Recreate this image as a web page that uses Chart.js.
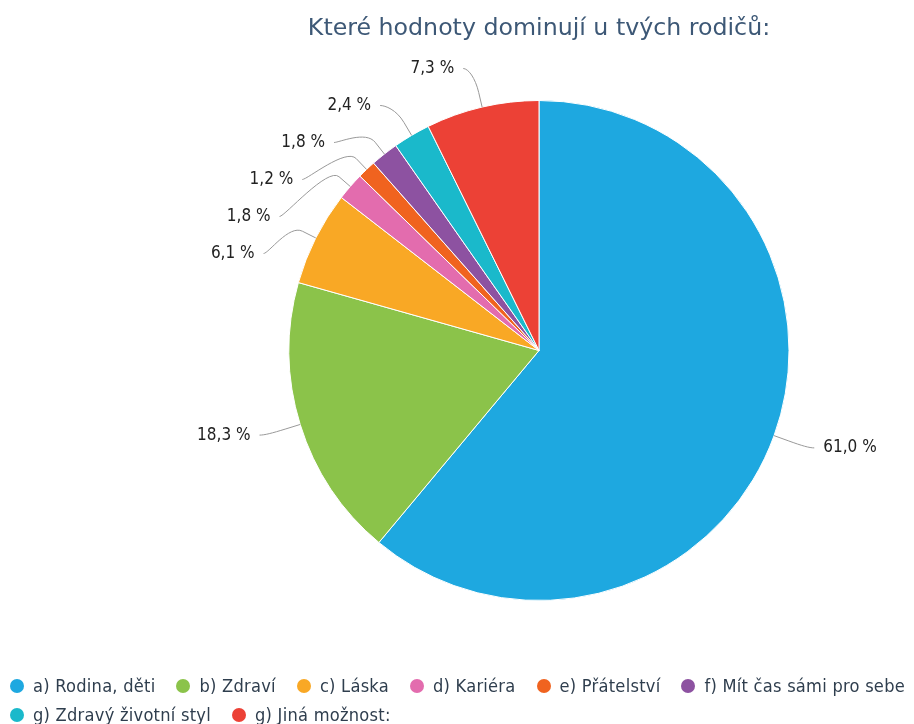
<!DOCTYPE html>
<html><head><meta charset="utf-8">
<script src="https://cdn.jsdelivr.net/npm/chart.js@4/dist/chart.umd.min.js"></script>
<style>
html,body{margin:0;padding:0;background:#fff;}
#wrap{position:relative;width:914px;height:724px;overflow:hidden;}
#c{position:absolute;left:0;top:0;}
#legend{position:absolute;left:10px;top:671px;width:990px;display:flex;flex-wrap:wrap;font-family:"DejaVu Sans Condensed","DejaVu Sans",sans-serif;font-size:18.1px;letter-spacing:0.25px;color:#2f3e4e;}
.item{display:flex;align-items:center;margin-right:21px;height:29px;white-space:nowrap;}
.item.brk{flex-basis:100%;height:0;margin:0;}
.dot{width:14px;height:14px;border-radius:50%;margin-right:9px;flex:none;}
</style></head>
<body>
<div id="wrap"><canvas id="c" width="914" height="724"></canvas><div id="legend"></div></div>
<script>
const chartTitle = "Které hodnoty dominují u tvých rodičů:";
const categories = ["a) Rodina, děti","b) Zdraví","c) Láska","d) Kariéra","e) Přátelství","f) Mít čas sámi pro sebe","g) Zdravý životní styl","g) Jiná možnost:"];
const values = [61.0, 18.3, 6.1, 1.8, 1.2, 1.8, 2.4, 7.3];
const colors = ["#1ea8e0","#8bc34a","#f9a825","#e36cae","#f0631f","#8d52a1","#1ab9cb","#ec4136"];
const legendItemsPerRow = 6;

function fmt(v){ return v.toFixed(1).replace('.', ',') + ' %'; }

// HTML legend
const lg = document.getElementById('legend');
categories.forEach((c,i)=>{
  if(i>0 && i % legendItemsPerRow === 0){
    const b = document.createElement('div'); b.className='item brk'; lg.appendChild(b);
  }
  const it = document.createElement('div'); it.className='item';
  const d = document.createElement('span'); d.className='dot'; d.style.background=colors[i];
  const t = document.createElement('span'); t.textContent=c;
  it.appendChild(d); it.appendChild(t); lg.appendChild(it);
});

const calloutPlugin = {
  id:'callouts',
  afterDatasetsDraw(chart){
    const meta = chart.getDatasetMeta(0);
    const ctx = chart.ctx;
    const GAP = 37, R2 = 292, TXT = 9;
    const items = meta.data.map((arc,i)=>{
      const p = arc.getProps(['x','y','startAngle','endAngle','outerRadius'], true);
      const mid = (p.startAngle + p.endAngle)/2;
      const cos = Math.cos(mid), sin = Math.sin(mid);
      return {i, cx:p.x, cy:p.y, r:p.outerRadius, cos, sin, left: cos < 0, ideal: p.y + sin*(p.outerRadius+36)};
    });
    if(!items.length) return;
    const cx = items[0].cx, cy = items[0].cy, r = items[0].r;
    const minY = cy - r - 32, maxY = cy + r + 32;
    [true,false].forEach(side=>{
      const list = items.filter(it=>it.left===side).sort((a,b)=>a.ideal-b.ideal);
      if(!list.length) return;
      let clusters = [];
      list.forEach(it=>{
        clusters.push({items:[it], sum:it.ideal});
        while(clusters.length>1){
          const a = clusters[clusters.length-2], b = clusters[clusters.length-1];
          const aTop = a.sum/a.items.length - (a.items.length-1)*GAP/2;
          const bTop = b.sum/b.items.length - (b.items.length-1)*GAP/2;
          if(aTop + a.items.length*GAP > bTop){
            clusters.pop(); clusters.pop();
            clusters.push({items:a.items.concat(b.items), sum:a.sum+b.sum});
          } else break;
        }
      });
      clusters.forEach(cl=>{
        const top = cl.sum/cl.items.length - (cl.items.length-1)*GAP/2;
        cl.items.forEach((it,k)=>{ it.y = top + k*GAP; });
      });
      for(let k=0;k<list.length;k++){
        const lo = k===0 ? minY : list[k-1].y + GAP;
        if(list[k].y < lo) list[k].y = lo;
      }
      for(let k=list.length-1;k>=0;k--){
        const hi = k===list.length-1 ? maxY : list[k+1].y - GAP;
        if(list[k].y > hi) list[k].y = hi;
      }
    });
    ctx.save();
    ctx.font = '17px "DejaVu Sans Condensed", "DejaVu Sans"';
    ctx.textBaseline = 'middle';
    items.forEach(it=>{
      const dy = it.y - cy;
      const off = Math.sqrt(Math.max(0, R2*R2 - dy*dy));
      const sx = it.left ? cx - off : cx + off;
      const bx = cx + it.cos*(r+15), by = cy + it.sin*(r+15);
      const tx = cx + it.cos*r, ty = cy + it.sin*r;
      ctx.beginPath();
      ctx.moveTo(sx, it.y);
      ctx.bezierCurveTo(sx + (it.left?5:-5), it.y, 2*bx - tx, 2*by - ty, bx, by);
      ctx.lineTo(tx, ty);
      ctx.strokeStyle = '#999999';
      ctx.lineWidth = 1;
      ctx.stroke();
      ctx.fillStyle = '#222';
      ctx.textAlign = it.left ? 'right' : 'left';
      ctx.fillText(fmt(values[it.i]), it.left ? sx - TXT : sx + TXT, it.y);
    });
    ctx.restore();
  }
};

new Chart(document.getElementById('c'), {
  type:'pie',
  data:{ labels:categories, datasets:[{ data:values, backgroundColor:colors, borderColor:'#ffffff', borderWidth:1, hoverOffset:0 }] },
  options:{
    responsive:false, animation:false,
    layout:{ padding:{ left:164, right:0, top:0, bottom:123 } },
    plugins:{
      legend:{ display:false },
      tooltip:{ enabled:false },
      title:{ display:true, text:chartTitle, color:'#3d5876',
        font:{ family:'"DejaVu Sans"', size:23.7, weight:'normal' },
        padding:{ top:15, bottom:56.56 } }
    }
  },
  plugins:[calloutPlugin]
});
</script>
</body></html>
